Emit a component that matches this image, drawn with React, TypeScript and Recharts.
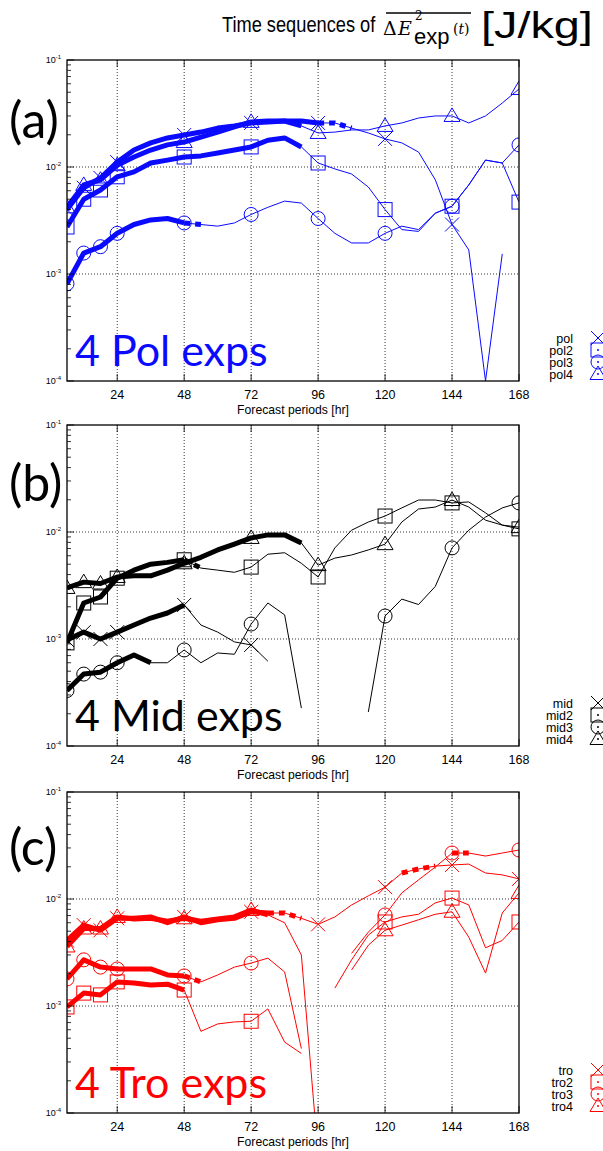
import React from "react";
import { LineChart, Line, XAxis, YAxis, CartesianGrid } from "recharts";

// forecast hours (every 6 h)
const hours = [6, 12, 18, 24, 30, 36, 42, 48, 54, 60, 66, 72, 78, 84, 90, 96, 102, 108, 114, 120, 126, 132, 138, 144, 150, 156, 162, 168];
const markerHours = [6, 12, 18, 24, 48, 72, 96, 120, 144, 168];
const xTicks = [24, 48, 72, 96, 120, 144, 168];
const decades = [1e-4, 1e-3, 1e-2, 1e-1];
const rightMajor = [0, 0.01, 0.02, 0.03, 0.04, 0.05, 0.06, 0.07, 0.08, 0.09, 0.1];
const rightLabels = ["0", "0.01", "0.02", "0.03", "0.04", "0.05", "0.06", "0.07", "0.08", "0.09", "0.1"];

// (a) polar experiments
const pol = [0.004, 0.0064, 0.0079, 0.0111, 0.0144, 0.0168, 0.0187, 0.0199, 0.0212, 0.0231, 0.0242, 0.0258, 0.0264, 0.0269, 0.0269, 0.0258, 0.0258, 0.0231, 0.0208, 0.0183, 0.0168, 0.0138, 0.0076, 0.0029, 0.00168, 0.0001, 0.00154, null];
const pol2 = [0.00275, 0.005, 0.0061, 0.0081, 0.009, 0.0109, 0.0116, 0.0124, 0.0127, 0.0135, 0.0144, 0.0154, 0.0178, 0.0187, 0.0154, 0.0109, 0.0096, 0.0086, 0.0065, 0.004, 0.0026, 0.0025, 0.0037, 0.0043, 0.0068, 0.0116, 0.0109, 0.0047];
const pol3 = [0.00081, 0.00157, 0.0018, 0.0024, 0.0029, 0.0032, 0.0033, 0.003, 0.0029, 0.0028, 0.003, 0.0036, 0.0042, 0.0048, 0.0046, 0.0033, 0.0024, 0.00195, 0.00195, 0.0024, 0.0028, 0.0026, 0.0037, 0.0043, 0.0068, 0.0116, 0.0109, 0.0161];
const pol4 = [0.0042, 0.0068, 0.0076, 0.0104, 0.0124, 0.0144, 0.0161, 0.0171, 0.019, 0.0212, 0.0237, 0.0264, 0.0269, 0.0269, 0.0242, 0.0208, 0.0212, 0.0222, 0.0222, 0.0242, 0.0258, 0.0287, 0.03, 0.03, 0.0258, 0.03, 0.0396, 0.0536];

// (b) mid-latitude experiments
const mid = [0.00098, 0.00116, 0.001, 0.00116, 0.00135, 0.00157, 0.00175, 0.00208, 0.00135, 0.00116, 0.00094, 0.00088, 0.00062, null, null, null, null, null, null, null, null, null, null, null, null, null, null, null];
const mid2 = [0.00092, 0.00217, 0.00247, 0.0037, 0.0044, 0.005, 0.0052, 0.0055, 0.0046, 0.0044, 0.0042, 0.0047, 0.0062, 0.0064, 0.0051, 0.0038, 0.0071, 0.0104, 0.0124, 0.0141, 0.0168, 0.0199, 0.0199, 0.0187, 0.0191, 0.0151, 0.0116, 0.0107];
const mid3 = [0.00033, 0.00047, 0.00049, 0.0006, 0.00071, 0.0006, 0.0006, 0.00079, 0.0006, 0.00074, 0.00072, 0.00138, 0.00217, 0.00168, 0.000226, null, null, null, 0.000208, 0.00164, 0.00236, 0.0021, 0.0031, 0.0071, 0.0104, 0.0138, 0.0168, 0.0187];
const mid4 = [0.003, 0.0034, 0.0033, 0.0038, 0.0039, 0.0039, 0.0044, 0.0051, 0.0058, 0.0068, 0.0077, 0.0088, 0.0094, 0.0094, 0.0079, 0.0049, 0.0057, 0.0061, 0.0068, 0.0077, 0.0124, 0.0164, 0.0171, 0.0199, 0.0171, 0.0129, 0.0116, 0.0111];

// (c) tropical experiments
const tro = [0.0041, 0.0057, 0.0051, 0.0066, 0.0066, 0.0068, 0.006, 0.0068, 0.006, 0.0064, 0.0066, 0.0076, 0.0074, 0.0074, 0.0066, 0.0058, 0.0068, 0.0088, 0.0107, 0.0129, 0.0175, 0.0191, 0.0203, 0.0208, 0.0212, 0.0175, 0.0168, 0.0154];
const tro2 = [0.00098, 0.00132, 0.00127, 0.00168, 0.00164, 0.00157, 0.0016, 0.00141, 0.00058, 0.00068, 0.00071, 0.00072, 0.00094, 0.00046, 0.00036, null, 0.00147, 0.0027, 0.0046, 0.0061, 0.0068, 0.0072, 0.0092, 0.0102, 0.0088, 0.0035, 0.0041, 0.0061];
const tro3 = [0.00179, 0.0027, 0.00231, 0.00222, 0.00222, 0.00222, 0.00195, 0.00191, 0.00168, 0.00195, 0.00231, 0.00252, 0.0028, 0.00208, 0.0004, null, null, 0.0031, 0.0049, 0.0071, 0.0114, 0.0151, 0.0199, 0.0269, 0.0269, 0.0252, 0.0269, 0.0287];
const tro4 = [0.0036, 0.0053, 0.0053, 0.0068, 0.0065, 0.0066, 0.0062, 0.0066, 0.0062, 0.0065, 0.0068, 0.0079, 0.0071, 0.006, 0.003, 0.00004, null, 0.00217, 0.0037, 0.0051, 0.0057, 0.0064, 0.0072, 0.0076, 0.0044, 0.00203, 0.0074, 0.0114];

type MarkerType = "x" | "square" | "circle" | "triangle";
type Series = {
  key: string;
  values: (number | null)[];
  marker: MarkerType;
  thick: [number, number][];
  dashed: [number, number][];
};

const BLUE = "#0a0aff";
const RED = "#ff0000";
const BLACK = "#000000";

const panels: { id: string; top: number; color: string; label: string; title: string; series: Series[] }[] = [
  {
    id: "a", top: 60, color: BLUE, label: "(a)", title: "4 Pol exps",
    series: [
      { key: "pol", values: pol, marker: "x", thick: [[6, 96]], dashed: [[96, 108]] },
      { key: "pol2", values: pol2, marker: "square", thick: [[6, 90]], dashed: [] },
      { key: "pol3", values: pol3, marker: "circle", thick: [[6, 48]], dashed: [[48, 54]] },
      { key: "pol4", values: pol4, marker: "triangle", thick: [[6, 90]], dashed: [] },
    ],
  },
  {
    id: "b", top: 425, color: BLACK, label: "(b)", title: "4 Mid exps",
    series: [
      { key: "mid", values: mid, marker: "x", thick: [[6, 48]], dashed: [] },
      { key: "mid2", values: mid2, marker: "square", thick: [[6, 48]], dashed: [[48, 54]] },
      { key: "mid3", values: mid3, marker: "circle", thick: [[6, 36]], dashed: [] },
      { key: "mid4", values: mid4, marker: "triangle", thick: [[6, 90]], dashed: [] },
    ],
  },
  {
    id: "c", top: 792, color: RED, label: "(c)", title: "4 Tro exps",
    series: [
      { key: "tro", values: tro, marker: "x", thick: [[6, 78]], dashed: [[78, 90], [126, 138]] },
      { key: "tro2", values: tro2, marker: "square", thick: [[6, 48]], dashed: [] },
      { key: "tro3", values: tro3, marker: "circle", thick: [[6, 48]], dashed: [[48, 54], [144, 150]] },
      { key: "tro4", values: tro4, marker: "triangle", thick: [[6, 78]], dashed: [] },
    ],
  },
];

const W = 603;
const PLOT_LEFT = 67;
const PLOT_RIGHT = 519;
const PLOT_H = 321;
const MT = 10;
const XAXIS_H = 40;
const FONT = "'Liberation Sans', Arial, Helvetica, sans-serif";
const SERIF = "'DejaVu Serif', serif";

const logTicks: number[] = [];
decades.forEach((d, i) => {
  if (i === decades.length - 1) {
    logTicks.push(d);
    return;
  }
  for (let m = 1; m < 10; m++) logTicks.push(d * m);
});
const rightTicks: number[] = [];
rightMajor.forEach((v, i) => {
  rightTicks.push(v);
  if (i < rightMajor.length - 1) for (let k = 1; k < 5; k++) rightTicks.push(v + k * 0.002);
});

function buildRows(series: Series[]) {
  return hours.map((h, i) => {
    const row: Record<string, number | null> = { h };
    series.forEach((s) => {
      const v = s.values[i];
      row[s.key] = v;
      s.thick.forEach(([a, b], k) => {
        row[`${s.key}_t${k}`] = h >= a && h <= b ? v : null;
      });
      s.dashed.forEach(([a, b], k) => {
        row[`${s.key}_d${k}`] = h >= a && h <= b ? v : null;
      });
    });
    return row;
  });
}

function Marker({ type, cx, cy, color, dot }: { type: MarkerType; cx: number; cy: number; color: string; dot?: boolean }) {
  const s = 7;
  let shape: React.ReactNode = null;
  if (type === "x") {
    shape = <path d={`M${cx - s},${cy - s}L${cx + s},${cy + s}M${cx - s},${cy + s}L${cx + s},${cy - s}`} />;
  } else if (type === "square") {
    shape = <rect x={cx - s} y={cy - s} width={2 * s} height={2 * s} />;
  } else if (type === "circle") {
    shape = <circle cx={cx} cy={cy} r={s} />;
  } else {
    shape = <path d={`M${cx},${cy - 8}L${cx + 8},${cy + 5.5}L${cx - 8},${cy + 5.5}Z`} />;
  }
  return (
    <g stroke={color} strokeWidth={1} fill="none">
      {shape}
      {dot && <circle cx={cx} cy={cy} r={0.6} fill={color} />}
    </g>
  );
}

const LogTick = (props: any) => {
  const { y, payload } = props;
  const v = payload.value as number;
  const lg = Math.log10(v);
  const exp = Math.round(lg);
  const major = Math.abs(lg - exp) < 1e-6;
  return (
    <g>
      <line x1={PLOT_LEFT} x2={PLOT_LEFT + (major ? 7 : 4)} y1={y} y2={y} stroke="#000" strokeWidth={0.8} />
      {major && (
        <text x={PLOT_LEFT - 6} y={y + 3} textAnchor="end" fontSize={9} fontFamily={FONT} fill="#000">
          10<tspan dy={-4} fontSize={6}>{String(exp)}</tspan>
        </text>
      )}
    </g>
  );
};

const RightTick = (props: any) => {
  const { y, payload } = props;
  const v = payload.value as number;
  const idx = rightMajor.findIndex((m) => Math.abs(m - v) < 1e-9);
  const major = idx >= 0;
  return (
    <g>
      <line x1={PLOT_RIGHT} x2={PLOT_RIGHT - (major ? 7 : 4)} y1={y} y2={y} stroke="#000" strokeWidth={0.8} />
      {major && (
        <text x={PLOT_RIGHT + 9} y={y + 3.5} fontSize={10} fontFamily={FONT} fill="#000">
          {rightLabels[idx]}
        </text>
      )}
    </g>
  );
};

const XTick = (props: any) => {
  const { x, y, payload } = props;
  return (
    <g>
      <line x1={x} x2={x} y1={y} y2={y - 7} stroke="#000" strokeWidth={0.8} />
      <line x1={x} x2={x} y1={y - PLOT_H} y2={y - PLOT_H + 7} stroke="#000" strokeWidth={0.8} />
      <text x={x} y={y + 18} textAnchor="middle" fontSize={12.5} fontFamily={FONT} fill="#000">
        {payload.value}
      </text>
    </g>
  );
};

function Panel({ top, color, series }: { top: number; color: string; series: Series[] }) {
  const rows = buildRows(series);
  const dotFor = (s: Series) => (props: any) => {
    const { cx, cy, payload, index } = props;
    const v = payload ? payload[s.key] : null;
    if (cx == null || cy == null || v == null || v < 1e-4 || !markerHours.includes(payload.h)) {
      return <g key={`${s.key}-n${index}`} />;
    }
    return (
      <g key={`${s.key}-m${index}`}>
        <Marker type={s.marker} cx={cx} cy={cy} color={color} />
      </g>
    );
  };
  return (
    <div style={{ position: "absolute", left: 0, top: top - MT }}>
      <LineChart width={W} height={MT + PLOT_H + XAXIS_H} data={rows} margin={{ top: MT, right: 0, bottom: 0, left: 0 }}>
        <CartesianGrid
          yAxisId="left"
          stroke="#000"
          strokeWidth={0.8}
          strokeDasharray="1 2"
          horizontalValues={[1e-3, 1e-2]}
          verticalValues={[24, 48, 72, 96, 120, 144]}
        />
        <XAxis
          dataKey="h"
          type="number"
          domain={[6, 168]}
          ticks={xTicks}
          interval={0}
          allowDataOverflow
          height={XAXIS_H}
          axisLine={false}
          tickLine={false}
          tickSize={0}
          tickMargin={0}
          tick={<XTick />}
        />
        <YAxis
          yAxisId="left"
          scale="log"
          domain={[1e-4, 1e-1]}
          ticks={logTicks}
          interval={0}
          allowDataOverflow
          width={PLOT_LEFT}
          axisLine={false}
          tickLine={false}
          tickSize={0}
          tickMargin={0}
          tick={<LogTick />}
        />
        <YAxis
          yAxisId="right"
          orientation="right"
          type="number"
          domain={[0, 0.1]}
          ticks={rightTicks}
          interval={0}
          width={W - PLOT_RIGHT}
          axisLine={false}
          tickLine={false}
          tickSize={0}
          tickMargin={0}
          tick={<RightTick />}
        />
        {series.map((s) =>
          s.thick.map((_, k) => (
            <Line
              key={`${s.key}_t${k}`}
              yAxisId="left"
              dataKey={`${s.key}_t${k}`}
              stroke={color}
              strokeWidth={5}
              strokeLinejoin="round"
              dot={false}
              activeDot={false}
              connectNulls={false}
              isAnimationActive={false}
            />
          ))
        )}
        {series.map((s) =>
          s.dashed.map((_, k) => (
            <Line
              key={`${s.key}_d${k}`}
              yAxisId="left"
              dataKey={`${s.key}_d${k}`}
              stroke={color}
              strokeWidth={5}
              strokeDasharray="6 5"
              dot={false}
              activeDot={false}
              connectNulls={false}
              isAnimationActive={false}
            />
          ))
        )}
        {series.map((s) => (
          <Line
            key={s.key}
            yAxisId="left"
            dataKey={s.key}
            stroke={color}
            strokeWidth={1}
            dot={dotFor(s)}
            activeDot={false}
            connectNulls={false}
            isAnimationActive={false}
          />
        ))}
      </LineChart>
    </div>
  );
}

function Overlay() {
  const labelFont = "Lato, 'Open Sans', sans-serif";
  const baseY = [138, 501, 865];
  return (
    <svg width={W} height={1151} style={{ position: "absolute", left: 0, top: 0, pointerEvents: "none" }}>
      {/* title: sans text squeezed with a transform so its box matches the drawn width */}
      <g transform="translate(222,32) scale(0.81,1)">
        <text x={0} y={0} fontSize={22.5} fontFamily={FONT} fill="#000">
          Time sequences of
        </text>
      </g>
      <text x={383} y={35} fontSize={19} fontFamily={SERIF} fill="#000">Δ</text>
      <text x={398} y={35} fontSize={19} fontFamily={SERIF} fontStyle="italic" fill="#000">E</text>
      <text x={415} y={20} fontSize={12} fontFamily={SERIF} fill="#000">2</text>
      <text x={414} y={44} fontSize={22} fontFamily={FONT} fill="#000">exp</text>
      <text x={453} y={34} fontSize={14} fontFamily={SERIF} fill="#000">
        (<tspan fontStyle="italic">t</tspan>)
      </text>
      <line x1={386} x2={471} y1={13} y2={13} stroke="#000" strokeWidth={1.5} />
      <g transform="translate(481,38) scale(1.3,1)">
        <text x={0} y={0} fontSize={36} fontFamily={FONT} fill="#000">
          [J/kg]
        </text>
      </g>
      {panels.map((p, i) => (
        <g key={p.id}>
          <rect x={PLOT_LEFT} y={p.top} width={PLOT_RIGHT - PLOT_LEFT} height={PLOT_H} fill="none" stroke="#000" strokeWidth={1.3} />
          <text x={293} y={p.top + PLOT_H + 33} textAnchor="middle" fontSize={12.2} fontFamily={FONT} fill="#000">
            Forecast periods [hr]
          </text>
          <text x={9} y={baseY[i]} fontSize={50} fontFamily={labelFont} fill="#000">
            {p.label}
          </text>
          <text x={75} y={p.top + PLOT_H - 15} fontSize={43} fontFamily={labelFont} fill={p.color}>
            {p.title}
          </text>
          {p.series.map((s, k) => {
            const y = p.top + PLOT_H - 43 + k * 12;
            return (
              <g key={s.key}>
                <text x={573} y={y + 4.5} textAnchor="end" fontSize={12.5} fontFamily={FONT} fill="#000">
                  {s.key}
                </text>
                <Marker type={s.marker} cx={598} cy={y} color={p.color} dot={s.marker !== "x"} />
              </g>
            );
          })}
        </g>
      ))}
    </svg>
  );
}

export default function App() {
  return (
    <div style={{ position: "absolute", left: 0, top: 0, width: W, height: 1151, background: "#fff" }}>
      {panels.map((p) => (
        <Panel key={p.id} top={p.top} color={p.color} series={p.series} />
      ))}
      <Overlay />
    </div>
  );
}
